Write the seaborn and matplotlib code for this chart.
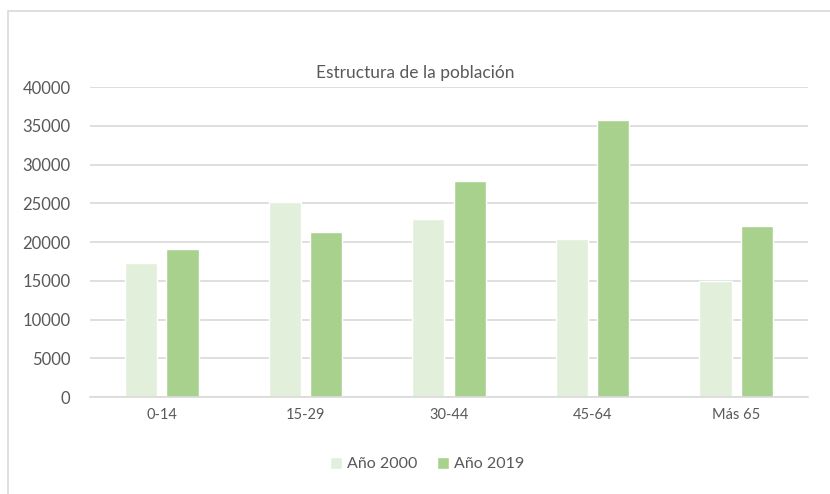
import pandas as pd
import seaborn as sns
import matplotlib.pyplot as plt
from matplotlib.patches import Rectangle

# datos
grupos = ['0-14', '15-29', '30-44', '45-64', 'Más 65']
anio_2000 = [17300, 25100, 23000, 20400, 15000]
anio_2019 = [19100, 21250, 27900, 35800, 22100]
series = ['Año 2000', 'Año 2019']
colores = ['#E2EFDA', '#A9D18E']

df = pd.DataFrame({'grupo': grupos * 2,
                   'valor': anio_2000 + anio_2019,
                   'serie': [series[0]] * len(grupos) + [series[1]] * len(grupos)})

sns.set_style('white')
plt.rcParams['font.family'] = ['Lato', 'DejaVu Sans']
gris = '#595959'

fig = plt.figure(figsize=(8.3, 4.94), dpi=100)
ax = fig.add_axes([90 / 830, 1 - 397 / 494, 718 / 830, 310 / 494])

sns.barplot(data=df, x='grupo', y='valor', hue='serie', order=grupos,
            hue_order=series, palette=colores, width=0.575, gap=0.22,
            saturation=1, ax=ax, legend=True)

ax.set_ylim(0, 40000)
ax.set_yticks(range(0, 40001, 5000))
ax.yaxis.grid(True, color='#D9D9D9', linewidth=1.2)
ax.set_axisbelow(True)
for s in ['top', 'right', 'left']:
    ax.spines[s].set_visible(False)
ax.spines['bottom'].set_color('#D9D9D9')
ax.spines['bottom'].set_linewidth(1.2)
ax.tick_params(axis='y', labelsize=12, labelcolor=gris, length=0, pad=14)
ax.tick_params(axis='x', labelsize=10.5, labelcolor=gris, length=0, pad=8)
ax.set_xlabel('')
ax.set_ylabel('')

leg = ax.legend(loc='center', bbox_to_anchor=(427 / 830, 1 - 464 / 494),
                bbox_transform=fig.transFigure, ncol=2,
                frameon=False, fontsize=11.5, handlelength=0.8, handleheight=0.8,
                handletextpad=0.3, columnspacing=1.2)
for t in leg.get_texts():
    t.set_color(gris)

fig.text(415 / 830, 1 - 73 / 494, 'Estructura de la población', ha='center',
         va='center', fontsize=12.5, color=gris)

# marco del grafico
fig.patches.append(Rectangle((8 / 830, -0.1), 1.2, 1 - 11 / 494 + 0.1,
                             transform=fig.transFigure, fill=False,
                             edgecolor='#D9D9D9', linewidth=1.2))

fig.savefig('out.png', dpi=100)
